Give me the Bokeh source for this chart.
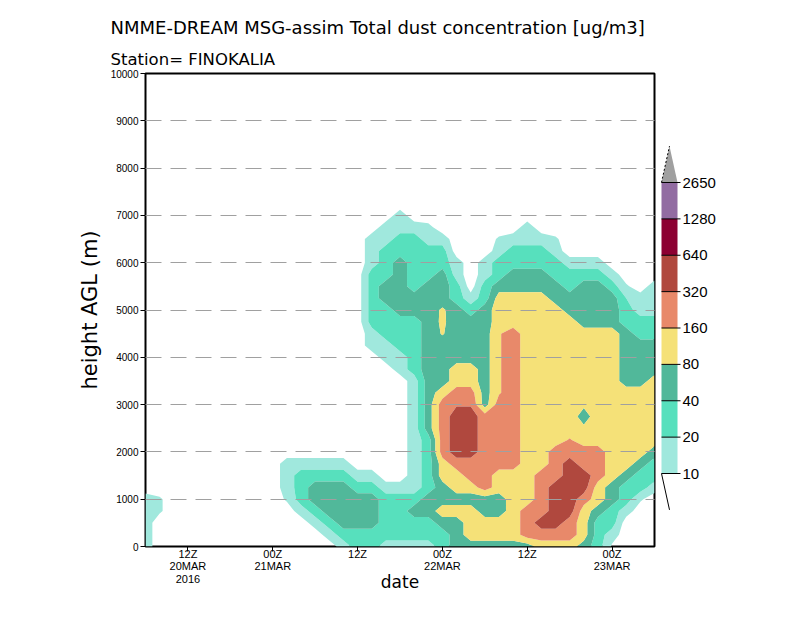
import numpy as np
from bokeh.plotting import figure
from bokeh.models import FixedTicker, Range1d, Title
from bokeh.layouts import row
from bokeh.embed import file_html
from bokeh.resources import INLINE
from bokeh.core.properties import value

# ---------------- data ----------------
# time axis: hours since 06Z 20MAR2016 (every 2 h)
hours = [0, 2, 4, 6, 8, 10, 12, 14, 16, 18, 20, 22, 24, 26, 28, 30, 32, 34, 36,
         38, 40, 42, 44, 46, 48, 50, 52, 54, 56, 58, 60, 62, 64, 66, 68, 70, 72]
# heights AGL (m)
heights = [0, 250, 500, 750, 1000, 1250, 1500, 1750, 2000, 2250, 2500, 2750, 3000,
           3250, 3500, 3750, 4000, 4250, 4500, 4750, 5000, 5250, 5500, 5750, 6000,
           6250, 6500, 6750, 7000, 7250, 7500]
# dust concentration (ug/m3) profiles, one list per time step, bottom -> top
conc_h00 = [14,14,14,14,14,0,0,0,0,0, 0,0,0,0,0,0,0,0,0,0, 0,0,0,0,0,0,0,0,0,0,0]
conc_h02 = [0,0,0,11,11,0,0,0,0,0, 0,0,0,0,0,0,0,0,0,0, 0,0,0,0,0,0,0,0,0,0,0]
conc_h04 = [0,0,0,0,0,0,0,0,0,0, 0,0,0,0,0,0,0,0,0,0, 0,0,0,0,0,0,0,0,0,0,0]
conc_h06 = [0,0,0,0,0,0,0,0,0,0, 0,0,0,0,0,0,0,0,0,0, 0,0,0,0,0,0,0,0,0,0,0]
conc_h08 = [0,0,0,0,0,0,0,0,0,0, 0,0,0,0,0,0,0,0,0,0, 0,0,0,0,0,0,0,0,0,0,0]
conc_h10 = [0,0,0,0,0,0,0,0,0,0, 0,0,0,0,0,0,0,0,0,0, 0,0,0,0,0,0,0,0,0,0,0]
conc_h12 = [0,0,0,0,0,0,0,0,0,0, 0,0,0,0,0,0,0,0,0,0, 0,0,0,0,0,0,0,0,0,0,0]
conc_h14 = [0,0,0,0,0,0,0,0,0,0, 0,0,0,0,0,0,0,0,0,0, 0,0,0,0,0,0,0,0,0,0,0]
conc_h16 = [0,0,0,0,0,0,0,0,0,0, 0,0,0,0,0,0,0,0,0,0, 0,0,0,0,0,0,0,0,0,0,0]
conc_h18 = [0,0,0,0,0,0,0,0,0,0, 0,0,0,0,0,0,0,0,0,0, 0,0,0,0,0,0,0,0,0,0,0]
conc_h20 = [0,0,0,0,11,14,14,14,0,0, 0,0,0,0,0,0,0,0,0,0, 0,0,0,0,0,0,0,0,0,0,0]
conc_h22 = [0,0,0,14,28,28,28,14,0,0, 0,0,0,0,0,0,0,0,0,0, 0,0,0,0,0,0,0,0,0,0,0]
conc_h24 = [0,0,14,28,57,57,28,14,0,0, 0,0,0,0,0,0,0,0,0,0, 0,0,0,0,0,0,0,0,0,0,0]
conc_h26 = [0,14,28,57,57,57,28,14,0,0, 0,0,0,0,0,0,0,0,0,0, 0,0,0,0,0,0,0,0,0,0,0]
conc_h28 = [14,28,57,57,57,57,28,14,0,0, 0,0,0,0,0,0,0,0,0,0, 0,0,0,0,0,0,0,0,0,0,0]
conc_h30 = [28,28,57,57,57,28,14,0,0,0, 0,0,0,0,0,0,0,0,0,0, 0,0,0,0,0,0,0,0,0,0,0]
conc_h32 = [28,28,57,57,57,28,14,0,0,0, 0,0,0,0,0,0,0,14,14,28, 28,28,28,28,14,14,14,0,0,0,0]
conc_h34 = [14,28,28,28,28,14,0,0,0,0, 0,0,0,0,0,0,14,14,28,28, 28,57,57,28,28,28,14,14,0,0,0]
conc_h36 = [14,28,28,28,28,14,0,0,0,0, 0,0,0,0,0,14,14,28,28,28, 57,57,57,57,57,28,28,14,14,0,0]
conc_h38 = [14,28,28,57,28,14,14,14,14,14, 14,14,14,14,14,28,28,28,28,28, 57,57,28,28,28,28,28,14,0,0,0]
conc_h40 = [14,28,28,57,57,28,28,28,28,28, 57,57,57,57,57,57,57,57,57,57, 57,57,57,28,28,28,14,12,0,0,0]
conc_h42 = [28,28,57,113,57,57,113,113,226,226, 226,226,226,113,57,57,57,57,84,90, 88,57,57,57,28,28,14,0,0,0,0]
conc_h44 = [57,57,57,113,57,113,113,226,452,452, 452,452,300,226,113,113,57,57,57,57, 57,28,28,14,14,0,0,0,0,0,0]
conc_h46 = [57,113,113,113,57,113,226,226,452,452, 452,452,300,226,113,113,57,57,57,57, 28,14,0,0,0,0,0,0,0,0,0]
conc_h48 = [57,113,113,57,57,226,226,226,226,226, 226,226,57,57,57,57,57,57,57,57, 57,28,28,14,14,0,0,0,0,0,0]
conc_h50 = [57,113,113,57,57,113,113,226,226,226, 226,226,226,150,150,150,150,150,150,113, 113,113,57,28,28,14,11,0,0,0,0]
conc_h52 = [57,113,113,113,113,113,113,226,226,226, 226,226,226,226,226,226,226,226,226,113, 113,113,57,57,28,28,14,0,0,0,0]
conc_h54 = [57,226,226,226,113,113,113,113,113,113, 113,113,113,113,113,113,113,113,113,113, 113,113,57,57,28,28,14,14,0,0,0]
conc_h56 = [113,226,452,226,226,226,226,113,113,113, 113,113,113,113,113,113,113,113,113,113, 113,113,57,57,28,28,14,0,0,0,0]
conc_h58 = [113,226,452,452,452,452,226,226,226,113, 113,113,113,113,113,113,113,113,113,113, 113,57,57,28,28,14,11,0,0,0,0]
conc_h60 = [113,226,226,452,452,452,452,452,226,170, 113,113,113,113,113,113,113,113,113,113, 57,57,28,28,14,0,0,0,0,0,0]
conc_h62 = [57,113,113,113,226,452,452,226,226,113, 90,60,90,113,113,113,113,113,113,57, 57,57,57,28,14,0,0,0,0,0,0]
conc_h64 = [28,28,28,57,113,113,226,226,226,113, 113,113,113,113,113,113,113,113,113,57, 57,57,57,28,14,0,0,0,0,0,0]
conc_h66 = [9,14,28,28,57,57,113,113,113,113, 113,113,113,113,113,113,113,113,113,57, 57,57,28,14,0,0,0,0,0,0,0]
conc_h68 = [0,0,0,14,28,28,57,113,113,113, 113,113,113,113,57,57,57,57,57,28, 28,20,11,0,0,0,0,0,0,0,0]
conc_h70 = [0,0,0,0,11,28,28,57,113,113, 113,113,113,113,57,57,57,57,28,28, 14,14,0,0,0,0,0,0,0,0,0]
conc_h72 = [0,0,0,0,0,14,28,28,57,113, 113,113,113,113,113,57,57,57,28,28, 14,14,14,0,0,0,0,0,0,0,0]

profiles = [conc_h00, conc_h02, conc_h04, conc_h06, conc_h08, conc_h10, conc_h12,
            conc_h14, conc_h16, conc_h18, conc_h20, conc_h22, conc_h24, conc_h26,
            conc_h28, conc_h30, conc_h32, conc_h34, conc_h36, conc_h38, conc_h40,
            conc_h42, conc_h44, conc_h46, conc_h48, conc_h50, conc_h52, conc_h54,
            conc_h56, conc_h58, conc_h60, conc_h62, conc_h64, conc_h66, conc_h68,
            conc_h70, conc_h72]

# contour levels (ug/m3) and shading colours
levels = [10, 20, 40, 80, 160, 320, 640, 1280, 2650]
level_labels = ["10", "20", "40", "80", "160", "320", "640", "1280", "2650"]
band_colors = ["#a0e8dd", "#57e0bd", "#51b89a", "#f5e178", "#e8896a",
               "#b0483e", "#8c0032", "#926ca2", "#a0a0a0"]

x_ticks = [6, 18, 30, 42, 54, 66]
x_tick_labels = ["12Z\n20MAR\n2016", "00Z\n21MAR", "12Z", "00Z\n22MAR", "12Z", "00Z\n23MAR"]
y_ticks = [0, 1000, 2000, 3000, 4000, 5000, 6000, 7000, 8000, 9000, 10000]
y_tick_labels = ["0", "1000", "2000", "3000", "4000", "5000", "6000", "7000", "8000", "9000", "10000"]
grid_ticks = [1000, 2000, 3000, 4000, 5000, 6000, 7000, 8000, 9000]

title_text = "NMME-DREAM MSG-assim Total dust concentration [ug/m3]"
subtitle_text = "Station= FINOKALIA"

# ---------------- main figure ----------------
FIG_H = 615
FRAME_TOP = 73
FRAME_BOTTOM = 546
p = figure(width=659, height=FIG_H, x_range=Range1d(0, 72), y_range=Range1d(0, 10000),
           output_backend="svg", toolbar_location=None,
           min_border_left=145, min_border_right=5, min_border_top=FRAME_TOP,
           min_border_bottom=FIG_H - FRAME_BOTTOM,
           background_fill_color="white", border_fill_color="white",
           outline_line_color="black", outline_line_width=2)

z = np.array(profiles, dtype=float).T          # shape (heights, hours)
zlog = np.log2(np.maximum(z, 7.0))
lev = np.log2(np.array(levels + [1.0e6], dtype=float))
p.contour(x=hours, y=heights, z=zlog, levels=lev, fill_color=band_colors)

# titles (main title on top, station line below)
p.title.text = title_text
p.title.text_font = "DejaVu Sans"
p.title.text_font_size = "18px"
p.title.text_font_style = "normal"
p.title.text_color = "black"
p.title.align = "left"
p.title.offset = -35
p.add_layout(Title(text=subtitle_text, text_font="DejaVu Sans", text_font_size="16.5px",
                   text_font_style="normal", text_color="black", align="left", offset=-35), "above")

# x axis
p.xaxis.ticker = FixedTicker(ticks=x_ticks)
p.xaxis.major_label_overrides = {t: lab for t, lab in zip(x_ticks, x_tick_labels)}
p.xaxis.major_label_text_font = "Liberation Sans"
p.xaxis.major_label_text_font_size = "11px"
p.xaxis.major_label_text_color = "black"
p.xaxis.major_label_text_line_height = 1.05
p.xaxis.major_label_standoff = -4
p.xaxis.major_tick_out = 5
p.xaxis.major_tick_in = 0
p.xaxis.major_tick_line_color = "black"
p.xaxis.minor_tick_line_color = None
p.xaxis.axis_line_color = None
p.xaxis.axis_label = "date"
p.xaxis.axis_label_text_font = "DejaVu Sans"
p.xaxis.axis_label_text_font_size = "17px"
p.xaxis.axis_label_text_font_style = "normal"
p.xaxis.axis_label_text_color = "black"
p.xaxis.axis_label_standoff = -16

# y axis
p.yaxis.ticker = FixedTicker(ticks=y_ticks)
p.yaxis.major_label_overrides = {t: lab for t, lab in zip(y_ticks, y_tick_labels)}
p.yaxis.major_label_text_font = "Liberation Sans"
p.yaxis.major_label_text_font_size = "10px"
p.yaxis.major_label_text_color = "black"
p.yaxis.major_label_standoff = 2
p.yaxis.major_tick_out = 5
p.yaxis.major_tick_in = 0
p.yaxis.major_tick_line_color = "black"
p.yaxis.minor_tick_line_color = None
p.yaxis.axis_line_color = None
p.yaxis.axis_label = "height AGL (m)"
p.yaxis.axis_label_text_font = "DejaVu Sans"
p.yaxis.axis_label_text_font_size = "21px"
p.yaxis.axis_label_text_font_style = "normal"
p.yaxis.axis_label_text_color = "black"
p.yaxis.axis_label_standoff = 6

# grid
p.xgrid.visible = False
p.ygrid.ticker = FixedTicker(ticks=grid_ticks)
p.ygrid.grid_line_color = "#a0a0a0"
p.ygrid.grid_line_dash = "16 9"
p.ygrid.grid_line_width = 1
p.ygrid.level = "overlay"

# ---------------- colour bar figure (frame aligned with main frame) ----------------
BOX = 36.375                     # pixel height of one colour box
LOWEST = 473                     # page y of the lowest level (10)
cb = figure(width=110, height=FIG_H, x_range=Range1d(0, 110),
            y_range=Range1d((LOWEST - FRAME_BOTTOM) / BOX, (LOWEST - FRAME_TOP) / BOX),
            output_backend="svg", toolbar_location=None, min_border=0,
            min_border_top=FRAME_TOP, min_border_bottom=FIG_H - FRAME_BOTTOM,
            x_axis_location=None, y_axis_location=None,
            outline_line_color=None, background_fill_color="white", border_fill_color="white")
cb.grid.visible = False

n = len(levels) - 1
pos = list(range(len(levels)))
cb.quad(left=2, right=18, bottom=pos[:-1], top=pos[1:], fill_color=band_colors[:n], line_color=None)
cb.patch(x=[2, 18, 10], y=[n, n, n + 1], fill_color=band_colors[n], line_color=None)
cb.line(x=[2, 10], y=[n, n + 1], line_color="black", line_width=1, line_dash="2 2")
cb.line(x=[2, 10], y=[0, -1], line_color="black", line_width=1)
cb.segment(x0=2, x1=21, y0=pos, y1=pos, line_color="black", line_width=1)
cb.text(x=23, y=pos, text=level_labels, text_baseline="middle", text_align="left",
        text_font=value("Liberation Sans"), text_font_size="15px", text_color="black")

layout = row(p, cb)
open("out.html", "w").write(file_html(layout, INLINE))
